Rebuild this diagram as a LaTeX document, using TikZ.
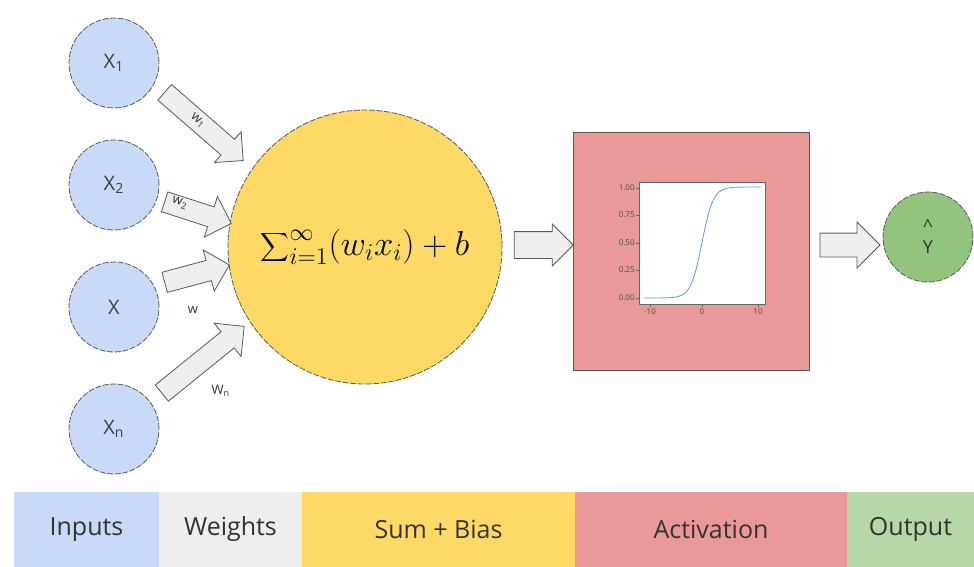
\documentclass[tikz,border=0pt]{standalone}
\usepackage{fontspec}
\setmainfont{Open Sans}
\usetikzlibrary{calc,shapes.arrows}
\definecolor{inblue}{HTML}{C9DAF8}
\definecolor{wgray}{HTML}{EFEFEF}
\definecolor{sumyel}{HTML}{FFD966}
\definecolor{actred}{HTML}{EA9999}
\definecolor{outgrn}{HTML}{93C47D}
\definecolor{legrn}{HTML}{B6D7A8}
\definecolor{edge}{HTML}{595959}
\definecolor{sigblue}{HTML}{5B9BD5}
\tikzset{unit/.style={circle, draw=edge, thin, dash pattern=on 3pt off 0.8pt, inner sep=0pt},
  inp/.style={unit, fill=inblue, minimum size=45pt, font=\fontsize{10}{10}\selectfont, text=black!75},
  blkarrow/.style={single arrow, draw=edge, fill=wgray, thin, inner xsep=0pt,
    single arrow tip angle=90},
  wlabel/.style={inner sep=0pt, font=\fontsize{6.5}{7}\selectfont, text=black!80},
  tick/.style={inner sep=0.6pt, font=\fontsize{4}{4.5}\selectfont, text=black!70},
  legend/.style={minimum height=37.5pt, inner sep=0pt, font=\fontsize{12.5}{13}\selectfont, text=black!80}}

\begin{document}
\begin{tikzpicture}[x=0.5pt, y=-0.5pt]
  \useasboundingbox (0,0) rectangle (974,567);
  % inputs
  \node[inp] (x1) at (114,63) {X\textsubscript{1}};
  \node[inp] (x2) at (114,185) {X\textsubscript{2}};
  \node[inp] (x3) at (114,307) {X};
  \node[inp] (xn) at (114,429) {X\textsubscript{n}};
  % sum, activation, output
  \node[unit, fill=sumyel, minimum size=137pt, font=\LARGE] (sum) at (365,247) {$\displaystyle\sum\nolimits_{i=1}^{\infty}(w_ix_i)+b$};
  \node[draw=edge, thin, fill=actred, minimum width=118pt, minimum height=119pt] (act) at (691,251) {};
  \node[unit, fill=outgrn, minimum size=45pt, align=center, font=\fontsize{9}{10.5}\selectfont, text=black!80] (out) at (928,237) {\textasciicircum\\Y};
  % weights (height = length, width = across)
  \node[blkarrow, rotate=-41, minimum height=52pt, minimum width=20pt, inner ysep=5pt, single arrow head extend=5pt] (a1) at (200,123) {};
  \node[blkarrow, rotate=-18, minimum height=35pt, minimum width=21pt, inner ysep=5pt, single arrow head extend=5.5pt] (a2) at (193,211) {};
  \node[blkarrow, rotate=15, minimum height=33.5pt, minimum width=21pt, inner ysep=5pt, single arrow head extend=5.5pt] (a3) at (192,275) {};
  \node[blkarrow, rotate=39, minimum height=53pt, minimum width=21pt, inner ysep=5pt, single arrow head extend=5.5pt] (a4) at (199,363) {};
  \node[wlabel, rotate=-41] (w1) at (198,121) {w\textsubscript{1}};
  \node[wlabel, rotate=-18] (w2) at (180,203) {w\textsubscript{2}};
  \node[wlabel] (w3) at (193,310) {w};
  \node[wlabel] (wn) at (221,391) {W\textsubscript{n}};
  \node[blkarrow, minimum height=29.5pt, minimum width=20.5pt, inner ysep=6.5pt, single arrow head extend=3.75pt] (a5) at (537,245) {};
  \node[blkarrow, minimum height=30pt, minimum width=22.5pt, inner ysep=5.75pt, single arrow head extend=5.5pt] (a6) at (844,245) {};
  % sigmoid plot
  \node[draw=black!60, very thin, fill=white, minimum width=63pt, minimum height=61pt, inner sep=0pt] (plot) at (702,243) {};
  \draw[sigblue, thin] (644,298) -- plot[domain=-9:9, samples=60] ({702+5.6*\x}, {298-111/(1+exp(-\x))}) -- (761,187);
  \foreach \v/\y in {1.00/188, 0.75/215, 0.50/243, 0.25/270, 0.00/298}
    \draw[black!60, very thin] (639,\y) -- (636,\y) node[tick, anchor=east] {\v};
  \foreach \v/\x in {-10/650, 0/702, 10/758}
    \draw[black!60, very thin] (\x,304) -- (\x,307) node[tick, anchor=north] {\v};
  % legend
  \node[legend, fill=inblue, minimum width=72.5pt] (linp) at (86.5,529.5) {Inputs};
  \node[legend, fill=wgray, minimum width=71.5pt] (lw) at (230.5,529.5) {Weights};
  \node[legend, fill=sumyel, minimum width=136.5pt] (lsum) at (438.5,529.5) {Sum + Bias};
  \node[legend, fill=actred, minimum width=136pt] (lact) at (711,529.5) {Activation};
  \node[legend, fill=legrn, minimum width=63.5pt] (lout) at (910.5,529.5) {Output};
\end{tikzpicture}
\end{document}
